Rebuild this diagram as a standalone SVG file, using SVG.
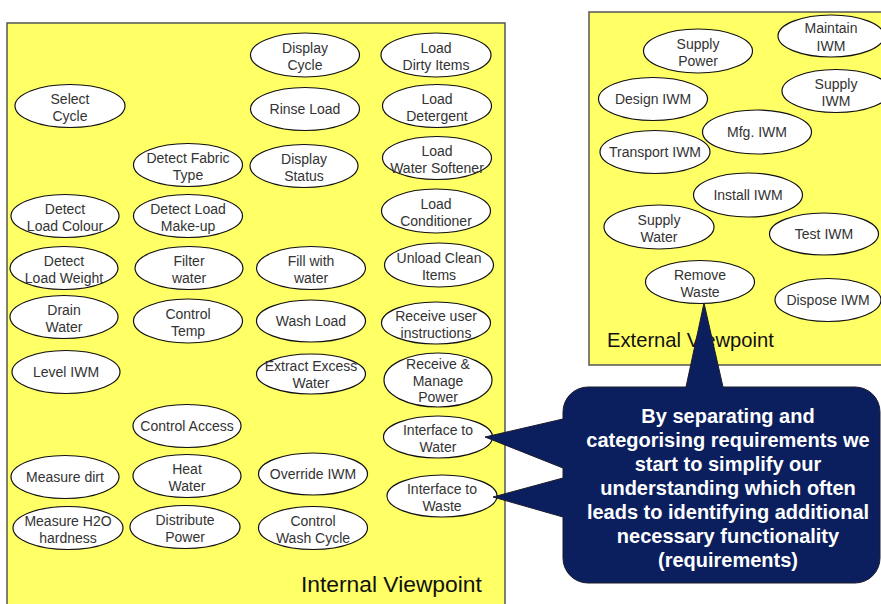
<svg xmlns="http://www.w3.org/2000/svg" width="881" height="604" viewBox="0 0 881 604">
  <style>
    .panel { fill: #ffff66; stroke: #555555; stroke-width: 1.5; }
    .uc ellipse { fill: #ffffff; stroke: #111111; stroke-width: 1.2; }
    .uc text { font-family: "Liberation Sans", Arial, sans-serif; font-size: 14px; fill: #333333; text-anchor: middle; }
    .title { font-family: "Liberation Sans", Arial, sans-serif; fill: #111111; }
    .callout path { fill: #0b1f5e; stroke: #1b1b2b; stroke-width: 1; }
    .callout text { font-family: "Liberation Sans", Arial, sans-serif; font-size: 20px; font-weight: bold; fill: #ffffff; text-anchor: middle; }
  </style>

  <!-- panels -->
  <rect id="internal-panel" class="panel" x="7" y="23" width="498" height="590"/>
  <rect id="external-panel" class="panel" x="589" y="12" width="310" height="353"/>
  <text class="title" x="301" y="592" font-size="22.8">Internal Viewpoint</text>
  <text class="title" x="607" y="347" font-size="20.2">External Viewpoint</text>

  <!-- internal viewpoint: column 1 -->
  <g id="select-cycle" class="uc"><ellipse cx="70" cy="106" rx="55" ry="21.5"/><text x="70" y="104">Select</text><text x="70" y="121">Cycle</text></g>
  <g id="detect-load-colour" class="uc"><ellipse cx="65" cy="216" rx="54" ry="21.5"/><text x="65" y="214">Detect</text><text x="65" y="231">Load Colour</text></g>
  <g id="detect-load-weight" class="uc"><ellipse cx="64" cy="268" rx="54" ry="21.5"/><text x="64" y="266">Detect</text><text x="64" y="283">Load Weight</text></g>
  <g id="drain-water" class="uc"><ellipse cx="64" cy="317" rx="54" ry="21.5"/><text x="64" y="315">Drain</text><text x="64" y="332">Water</text></g>
  <g id="level-iwm" class="uc"><ellipse cx="66" cy="372" rx="54" ry="21.5"/><text x="66" y="377">Level IWM</text></g>
  <g id="measure-dirt" class="uc"><ellipse cx="65" cy="477" rx="54" ry="21.5"/><text x="65" y="482">Measure dirt</text></g>
  <g id="measure-h2o" class="uc"><ellipse cx="68" cy="528" rx="55" ry="21.5"/><text x="68" y="526">Measure H2O</text><text x="68" y="543">hardness</text></g>

  <!-- internal viewpoint: column 2 -->
  <g id="detect-fabric" class="uc"><ellipse cx="188" cy="165" rx="54.5" ry="21.5"/><text x="188" y="163">Detect Fabric</text><text x="188" y="180">Type</text></g>
  <g id="detect-makeup" class="uc"><ellipse cx="188" cy="216" rx="54.5" ry="21.5"/><text x="188" y="214">Detect Load</text><text x="188" y="231">Make-up</text></g>
  <g id="filter-water" class="uc"><ellipse cx="189" cy="268" rx="54" ry="21.5"/><text x="189" y="266">Filter</text><text x="189" y="283">water</text></g>
  <g id="control-temp" class="uc"><ellipse cx="188" cy="321" rx="54.5" ry="22"/><text x="188" y="319">Control</text><text x="188" y="336">Temp</text></g>
  <g id="control-access" class="uc"><ellipse cx="187" cy="426" rx="54" ry="21.5"/><text x="187" y="431">Control Access</text></g>
  <g id="heat-water" class="uc"><ellipse cx="187" cy="476" rx="54" ry="21.5"/><text x="187" y="474">Heat</text><text x="187" y="491">Water</text></g>
  <g id="distribute-power" class="uc"><ellipse cx="185" cy="527" rx="55" ry="21.5"/><text x="185" y="525">Distribute</text><text x="185" y="542">Power</text></g>

  <!-- internal viewpoint: column 3 -->
  <g id="display-cycle" class="uc"><ellipse cx="305" cy="55" rx="54.5" ry="22"/><text x="305" y="53">Display</text><text x="305" y="70">Cycle</text></g>
  <g id="rinse-load" class="uc"><ellipse cx="305" cy="109" rx="54.5" ry="21.5"/><text x="305" y="114">Rinse Load</text></g>
  <g id="display-status" class="uc"><ellipse cx="304" cy="166" rx="54" ry="21.5"/><text x="304" y="164">Display</text><text x="304" y="181">Status</text></g>
  <g id="fill-water" class="uc"><ellipse cx="311" cy="268" rx="54.5" ry="21.5"/><text x="311" y="266">Fill with</text><text x="311" y="283">water</text></g>
  <g id="wash-load" class="uc"><ellipse cx="311" cy="321" rx="54.5" ry="21"/><text x="311" y="326">Wash Load</text></g>
  <g id="extract-water" class="uc"><ellipse cx="311" cy="374" rx="54.5" ry="20"/><text x="311" y="371">Extract Excess</text><text x="311" y="388">Water</text></g>
  <g id="override-iwm" class="uc"><ellipse cx="313" cy="474" rx="54.5" ry="21"/><text x="313" y="479">Override IWM</text></g>
  <g id="control-wash-cycle" class="uc"><ellipse cx="313" cy="528" rx="54.5" ry="21.5"/><text x="313" y="526">Control</text><text x="313" y="543">Wash Cycle</text></g>

  <!-- internal viewpoint: column 4 -->
  <g id="load-dirty" class="uc"><ellipse cx="436" cy="55" rx="55" ry="22"/><text x="436" y="53">Load</text><text x="436" y="70">Dirty Items</text></g>
  <g id="load-detergent" class="uc"><ellipse cx="437" cy="106" rx="54.5" ry="21.5"/><text x="437" y="104">Load</text><text x="437" y="121">Detergent</text></g>
  <g id="load-softener" class="uc"><ellipse cx="437" cy="158" rx="54.5" ry="21.5"/><text x="437" y="156">Load</text><text x="437" y="173">Water Softener</text></g>
  <g id="load-conditioner" class="uc"><ellipse cx="436" cy="211" rx="54.5" ry="22"/><text x="436" y="209">Load</text><text x="436" y="226">Conditioner</text></g>
  <g id="unload-clean" class="uc"><ellipse cx="439" cy="265" rx="54.5" ry="22"/><text x="439" y="263">Unload Clean</text><text x="439" y="280">Items</text></g>
  <g id="receive-instructions" class="uc"><ellipse cx="436" cy="323" rx="54.5" ry="21"/><text x="436" y="321">Receive user</text><text x="436" y="338">instructions</text></g>
  <g id="receive-power" class="uc"><ellipse cx="438" cy="380" rx="54" ry="27"/><text x="438" y="369">Receive &amp;</text><text x="438" y="386">Manage</text><text x="438" y="402">Power</text></g>
  <g id="interface-water" class="uc"><ellipse cx="438" cy="437" rx="54.5" ry="21"/><text x="438" y="435">Interface to</text><text x="438" y="452">Water</text></g>
  <g id="interface-waste" class="uc"><ellipse cx="442" cy="496" rx="55" ry="21"/><text x="442" y="494">Interface to</text><text x="442" y="511">Waste</text></g>

  <!-- external viewpoint -->
  <g id="supply-power" class="uc"><ellipse cx="698" cy="51" rx="54.5" ry="22"/><text x="698" y="49">Supply</text><text x="698" y="66">Power</text></g>
  <g id="maintain-iwm" class="uc"><ellipse cx="831" cy="36" rx="53" ry="21"/><text x="831" y="33" font-size="15">Maintain</text><text x="831" y="51" font-size="15">IWM</text></g>
  <g id="design-iwm" class="uc"><ellipse cx="653" cy="99" rx="54.5" ry="21.5"/><text x="653" y="104">Design IWM</text></g>
  <g id="supply-iwm" class="uc"><ellipse cx="836" cy="91" rx="54" ry="21.5"/><text x="836" y="89">Supply</text><text x="836" y="106">IWM</text></g>
  <g id="mfg-iwm" class="uc"><ellipse cx="757" cy="132" rx="54.5" ry="22"/><text x="757" y="137">Mfg. IWM</text></g>
  <g id="transport-iwm" class="uc"><ellipse cx="655" cy="152" rx="55" ry="21.5"/><text x="655" y="157">Transport IWM</text></g>
  <g id="install-iwm" class="uc"><ellipse cx="748" cy="195" rx="54.5" ry="22"/><text x="748" y="200">Install IWM</text></g>
  <g id="supply-water" class="uc"><ellipse cx="659" cy="227" rx="55" ry="22"/><text x="659" y="225">Supply</text><text x="659" y="242">Water</text></g>
  <g id="test-iwm" class="uc"><ellipse cx="824" cy="234" rx="54.5" ry="21"/><text x="824" y="239">Test IWM</text></g>
  <g id="remove-waste" class="uc"><ellipse cx="700" cy="282" rx="54.5" ry="21.5"/><text x="700" y="280">Remove</text><text x="700" y="297">Waste</text></g>
  <g id="dispose-iwm" class="uc"><ellipse cx="828" cy="300" rx="53" ry="21.5"/><text x="828" y="305">Dispose IWM</text></g>

  <!-- callout with three pointers -->
  <g id="callout" class="callout">
    <path d="M588,387 L686,387 L704,303 L723,387 L855,387 A25,25 0 0 1 880,412 L880,558 A25,25 0 0 1 855,583 L588,583 A25,25 0 0 1 563,558 L563,517 L493,497 L563,478 L563,468 L485,437 L563,419 L563,412 A25,25 0 0 1 588,387 Z"/>
    <text x="728" y="423">By separating and</text>
    <text x="728" y="447">categorising requirements we</text>
    <text x="728" y="471">start to simplify our</text>
    <text x="728" y="495">understanding which often</text>
    <text x="728" y="519">leads to identifying additional</text>
    <text x="728" y="543">necessary functionality</text>
    <text x="728" y="567">(requirements)</text>
  </g>
</svg>
